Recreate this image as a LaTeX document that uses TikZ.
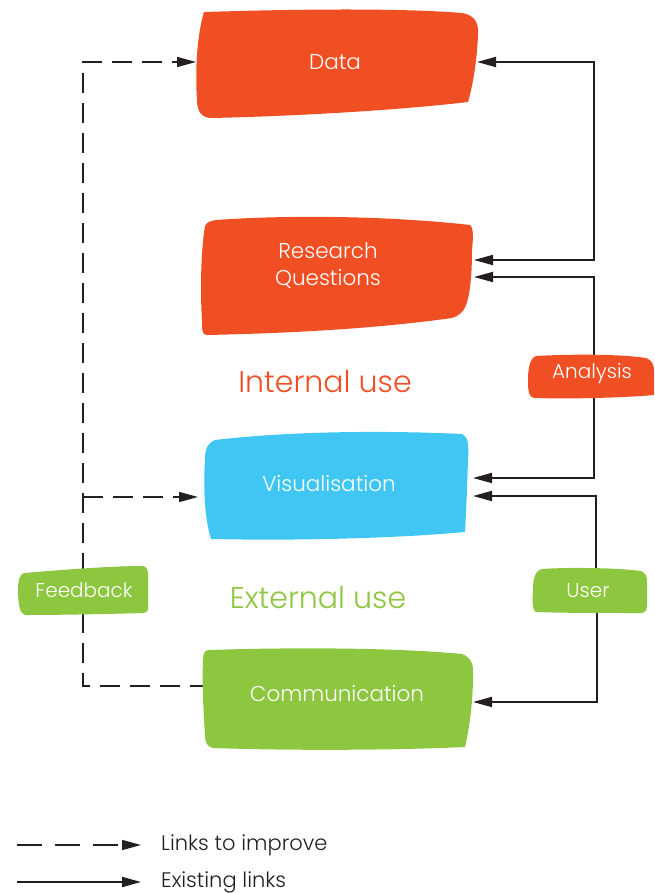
\documentclass[tikz,border=0pt]{standalone}
\usepackage{fontspec}
\setmainfont{Poppins}[UprightFont=* Light]
\usetikzlibrary{arrows.meta}
\definecolor{cOrange}{RGB}{240,78,35}
\definecolor{cBlue}{RGB}{64,198,242}
\definecolor{cGreen}{RGB}{141,198,63}
\definecolor{cLine}{RGB}{35,31,32}
\tikzset{
  mytip/.tip={Triangle[length=19pt,width=10pt]},
  boxtext/.style={text=white, font=\fontsize{21.5}{27}\selectfont, align=center, inner sep=0pt},
  tagtext/.style={text=white, font=\fontsize{20}{24}\selectfont, inner sep=0pt},
  grouptext/.style={font=\fontsize{30}{34}\selectfont, inner sep=0pt},
  legendtext/.style={text=cLine, font=\fontsize{21}{25}\selectfont, anchor=west, inner sep=0pt},
  solidlink/.style={draw=cLine, line width=1.8pt},
  dashedlink/.style={draw=cLine, line width=1.4pt, dash pattern=on 20pt off 10pt},
}
\begin{document}
\begin{tikzpicture}[x=1pt,y=-1pt]
\useasboundingbox (0,0) rectangle (654,893);

% connector end points
\coordinate (dataR) at (477,62);
\coordinate (dataL) at (196,62);
\coordinate (rqR1) at (474,260);
\coordinate (rqR2) at (474,277);
\coordinate (visR1) at (473,478);
\coordinate (visR2) at (473,496);
\coordinate (visL) at (198,497);
\coordinate (comR) at (473,702);
\coordinate (comL) at (206,686);
\coordinate (jD) at (594,62);
\coordinate (anT) at (594,356);
\coordinate (anB) at (594,397);
\coordinate (usT) at (596,569);
\coordinate (usB) at (597,612);
\coordinate (fbT) at (83,573);
\coordinate (fbB) at (83,613);
\coordinate (jV) at (83,497);
\coordinate (lg1a) at (17,845);
\coordinate (lg1b) at (141,845);
\coordinate (lg2a) at (17,882);
\coordinate (lg2b) at (141,882);

% solid links (right)
\draw[solidlink, mytip-mytip] (dataR) -- (jD) |- (rqR1);
\draw[solidlink, -mytip] (anT) |- (rqR2);
\draw[solidlink, -mytip] (anB) |- (visR1);
\draw[solidlink, -mytip] (usT) |- (visR2);
\draw[solidlink, -mytip] (usB) |- (comR);

% dashed links (left)
\draw[dashedlink, -mytip] (fbT) |- (dataL);
\draw[dashedlink, -mytip] (jV) -- (visL);
\draw[dashedlink] (fbB) |- (comL);

% blobs
\fill[cOrange] (204,12) .. controls (300,9) and (400,8) .. (462,13) .. controls (474,15) and (479,22) .. (478,35) .. controls (477,60) and (473,85) .. (468,102) .. controls (400,110) and (300,116) .. (212,118) .. controls (202,118) and (197,112) .. (197,100) .. controls (195,70) and (197,35) .. (204,12) -- cycle;
\fill[cOrange] (205,226) .. controls (207,222) and (210,221) .. (216,220) .. controls (300,214) and (400,217) .. (470,225) .. controls (474,228) and (473,240) .. (472,250) .. controls (472,275) and (470,295) .. (466,305) .. controls (463,313) and (458,316) .. (452,318) .. controls (380,328) and (300,333) .. (207,335) .. controls (202,335) and (202,330) .. (202,320) .. controls (200,290) and (201,250) .. (205,226) -- cycle;
\fill[cBlue] (215,440) .. controls (300,430) and (400,431) .. (462,434) .. controls (468,436) and (469,445) .. (468,460) .. controls (467,490) and (466,515) .. (465,532) .. controls (400,538) and (300,541) .. (211,539) .. controls (205,520) and (203,490) .. (205,460) .. controls (205,448) and (208,443) .. (215,440) -- cycle;
\fill[cGreen] (209,650) .. controls (300,647) and (400,648) .. (462,654) .. controls (470,657) and (474,663) .. (473,675) .. controls (473,700) and (470,725) .. (465,747) .. controls (400,750) and (300,751) .. (213,748) .. controls (207,747) and (205,742) .. (205,735) .. controls (203,705) and (202,680) .. (203,660) .. controls (203,653) and (205,650) .. (209,650) -- cycle;
\fill[cOrange] (536,356) .. controls (570,354) and (620,354) .. (646,358) .. controls (653,361) and (654,365) .. (654,372) -- (654,395) .. controls (620,398) and (570,399) .. (534,398) .. controls (529,397) and (528,392) .. (528,380) .. controls (528,368) and (530,358) .. (536,356) -- cycle;
\fill[cGreen] (24,573) .. controls (60,570) and (110,566) .. (143,566) .. controls (147,567) and (148,570) .. (148,575) -- (148,608) .. controls (148,612) and (146,613) .. (143,613) .. controls (110,614) and (60,615) .. (25,615) .. controls (20,614) and (18,605) .. (18,590) .. controls (18,580) and (20,574) .. (24,573) -- cycle;
\fill[cGreen] (542,569) .. controls (570,567) and (620,568) .. (641,571) .. controls (646,573) and (647,577) .. (647,582) -- (647,605) .. controls (647,611) and (645,613) .. (640,613) .. controls (600,613) and (560,613) .. (536,612) .. controls (533,611) and (532,605) .. (533,590) .. controls (533,578) and (535,571) .. (542,569) -- cycle;

% texts
\node[boxtext] (data) at (335,62) {Data};
\node[boxtext] (rq) at (328,266) {Research\\Questions};
\node[boxtext] (vis) at (329,484) {Visualisation};
\node[boxtext] (com) at (337,694) {Communication};
\node[tagtext] (analysis) at (592,374) {Analysis};
\node[tagtext] (feedback) at (84,590) {Feedback};
\node[tagtext] (user) at (588,591) {User};
\node[grouptext, text=cOrange] (internal) at (325,382) {Internal use};
\node[grouptext, text=cGreen] (external) at (318,598) {External use};

% legend
\draw[dashedlink, dash pattern=on 25pt off 13pt, -mytip] (lg1a) -- (lg1b);
\draw[solidlink, -mytip] (lg2a) -- (lg2b);
\node[legendtext] (lgt1) at (161,845) {Links to improve};
\node[legendtext] (lgt2) at (161,882) {Existing links};
\end{tikzpicture}
\end{document}
